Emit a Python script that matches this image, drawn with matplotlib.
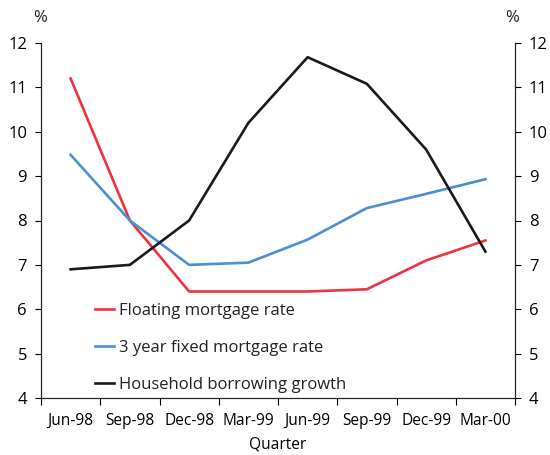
import numpy as np
import matplotlib
matplotlib.use("Agg")
import matplotlib.pyplot as plt

plt.rcParams.update({
    "font.family": ["Open Sans", "DejaVu Sans"],
    "text.color": "#222222",
})

quarters = ["Jun-98", "Sep-98", "Dec-98", "Mar-99", "Jun-99", "Sep-99", "Dec-99", "Mar-00"]
floating = [11.2, 8.0, 6.4, 6.4, 6.4, 6.45, 7.1, 7.55]
fixed_3y = [9.48, 8.0, 7.0, 7.05, 7.57, 8.28, 8.6, 8.93]
household = [6.9, 7.0, 8.0, 10.2, 11.68, 11.08, 9.6, 7.3]

COLOR_RED = "#ec3340"
COLOR_BLUE = "#4a90d2"
COLOR_BLACK = "#1a1a1a"

fig = plt.figure(figsize=(5.5, 4.55), dpi=100)
ax = fig.add_axes([41 / 550, 1 - 398 / 455, 474 / 550, 355 / 455])

x = np.arange(len(quarters))
ax.plot(x, floating, color=COLOR_RED, lw=1.9, label="Floating mortgage rate")
ax.plot(x, fixed_3y, color=COLOR_BLUE, lw=1.9, label="3 year fixed mortgage rate")
ax.plot(x, household, color=COLOR_BLACK, lw=1.9, label="Household borrowing growth")

ax.set_xlim(-0.5, len(quarters) - 0.5)
ax.set_ylim(4, 12)
ax.set_xticks(x)
ax.set_xticklabels(quarters, fontsize=11.2)
ax.set_xticks(np.arange(-0.5, len(quarters)), minor=True)
ax.tick_params(axis="x", which="major", length=0, pad=11)
ax.tick_params(axis="x", which="minor", length=5, width=0.8, direction="out")
ax.set_yticks(range(4, 13))
ax.tick_params(axis="y", labelsize=12, length=4, width=0.8, pad=6)

ax2 = ax.twinx()
ax2.set_ylim(4, 12)
ax2.set_yticks(range(4, 13))
ax2.tick_params(axis="y", labelsize=12, length=4, width=0.8, pad=6)

for a in (ax, ax2):
    a.spines["top"].set_visible(False)
    for s in ("left", "right", "bottom"):
        a.spines[s].set_linewidth(0.8)
        a.spines[s].set_color("#222222")

ax.set_xlabel("Quarter", fontsize=11.2, labelpad=5)
fig.text(40 / 550, 1 - 18 / 455, "%", fontsize=12, ha="center", va="center")
fig.text(512 / 550, 1 - 18 / 455, "%", fontsize=12, ha="center", va="center")

ax.legend(loc="lower left", bbox_to_anchor=(0.09, -0.018), frameon=False,
          fontsize=12, handlelength=1.1, handletextpad=0.35, labelspacing=1.25,
          borderpad=0.2)

fig.savefig("out.png", dpi=100)
